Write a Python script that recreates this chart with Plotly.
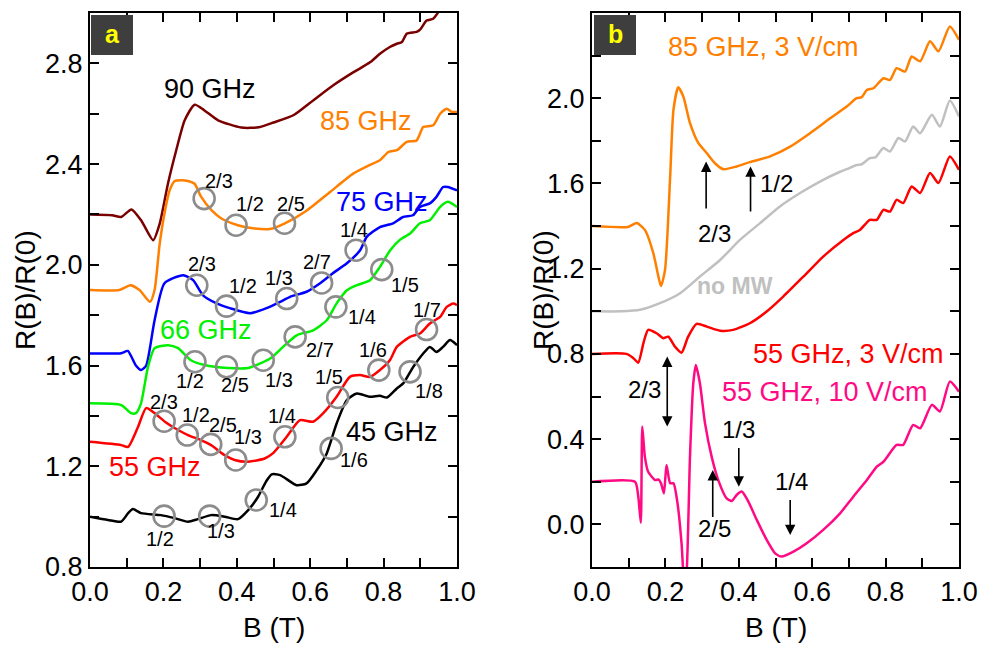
import plotly.graph_objects as go

# ---------------- panel (a): R(B)/R(0) at several microwave frequencies ----------------
b90 = [0, 0.06, 0.085, 0.113, 0.14, 0.172, 0.19, 0.2125, 0.235, 0.258, 0.285, 0.312, 0.349, 0.412, 0.46, 0.5,
       0.554, 0.608, 0.663, 0.717, 0.763, 0.79, 0.817, 0.836, 0.85, 0.863, 0.89, 0.9, 0.917, 0.935, 0.952, 0.97, 1.0]
r90 = [2.2, 2.197, 2.19, 2.22, 2.175, 2.098, 2.164, 2.323, 2.455, 2.574, 2.636, 2.613, 2.574, 2.545, 2.546, 2.565,
       2.594, 2.653, 2.713, 2.764, 2.804, 2.838, 2.865, 2.878, 2.885, 2.918, 2.925, 2.935, 2.97, 2.977, 3.01, 3.05, 3.1]

b85 = [0, 0.08, 0.11, 0.135, 0.1635, 0.176, 0.19, 0.205, 0.217, 0.231, 0.25, 0.267, 0.285, 0.303, 0.331, 0.358,
       0.403, 0.449, 0.49, 0.531, 0.59, 0.654, 0.717, 0.763, 0.79, 0.813, 0.836, 0.863, 0.89, 0.908, 0.935, 0.954,
       0.972, 0.986, 1.0]
r85 = [1.9, 1.9, 1.919, 1.9, 1.853, 1.9, 2.085, 2.22, 2.296, 2.333, 2.336, 2.333, 2.322, 2.27, 2.217, 2.184,
       2.157, 2.144, 2.142, 2.165, 2.215, 2.289, 2.362, 2.397, 2.415, 2.448, 2.455, 2.488, 2.494, 2.547, 2.554, 2.6,
       2.62, 2.607, 2.607]

b75 = [0, 0.085, 0.103, 0.125, 0.139, 0.153, 0.176, 0.203, 0.254, 0.281, 0.308, 0.345, 0.381, 0.436, 0.481, 0.518,
       0.545, 0.59, 0.627, 0.662, 0.7, 0.736, 0.754, 0.79, 0.826, 0.853, 0.88, 0.899, 0.926, 0.944, 0.962, 0.975, 1.0]
r75 = [1.648, 1.649, 1.658, 1.6, 1.582, 1.6, 1.78, 1.927, 1.959, 1.939, 1.879, 1.847, 1.828, 1.808, 1.828, 1.853,
       1.873, 1.893, 1.927, 1.967, 2.006, 2.058, 2.111, 2.15, 2.165, 2.19, 2.197, 2.23, 2.244, 2.27, 2.309, 2.309, 2.296]

b66 = [0, 0.085, 0.112, 0.125, 0.139, 0.158, 0.176, 0.213, 0.24, 0.275, 0.312, 0.376, 0.431, 0.466, 0.493, 0.526,
       0.563, 0.608, 0.645, 0.672, 0.7, 0.727, 0.763, 0.79, 0.818, 0.845, 0.872, 0.899, 0.926, 0.954, 0.975, 1.0]
r66 = [1.45, 1.443, 1.411, 1.411, 1.45, 1.595, 1.669, 1.681, 1.669, 1.621, 1.602, 1.59, 1.59, 1.61, 1.63, 1.674,
       1.72, 1.74, 1.78, 1.847, 1.899, 1.919, 1.939, 1.992, 2.058, 2.1, 2.124, 2.165, 2.177, 2.23, 2.25, 2.23]

b55 = [0, 0.085, 0.104, 0.131, 0.153, 0.176, 0.204, 0.24, 0.267, 0.302, 0.33, 0.367, 0.394, 0.431, 0.476, 0.499,
       0.536, 0.572, 0.608, 0.635, 0.672, 0.708, 0.736, 0.763, 0.79, 0.817, 0.836, 0.872, 0.899, 0.926, 0.954, 0.972,
       0.99, 1.0]
r55 = [1.297, 1.284, 1.277, 1.357, 1.431, 1.411, 1.377, 1.344, 1.324, 1.304, 1.284, 1.244, 1.225, 1.218, 1.231, 1.252,
       1.317, 1.383, 1.377, 1.41, 1.476, 1.555, 1.562, 1.555, 1.582, 1.621, 1.674, 1.714, 1.727, 1.767, 1.793, 1.833,
       1.846, 1.84]

b45 = [0, 0.049, 0.085, 0.104, 0.117, 0.139, 0.193, 0.231, 0.267, 0.294, 0.33, 0.367, 0.403, 0.431, 0.458, 0.48,
       0.495, 0.518, 0.563, 0.59, 0.618, 0.645, 0.672, 0.7, 0.727, 0.763, 0.79, 0.809, 0.836, 0.854, 0.881, 0.908,
       0.926, 0.944, 0.962, 0.981, 1.0]
r45 = [1.0, 0.987, 0.98, 1.014, 1.03, 1.014, 1.006, 0.994, 0.98, 0.99, 1.006, 1.0, 0.99, 1.026, 1.079, 1.14,
       1.168, 1.165, 1.125, 1.132, 1.185, 1.251, 1.37, 1.463, 1.489, 1.476, 1.48, 1.473, 1.509, 1.53, 1.595, 1.648,
       1.674, 1.654, 1.674, 1.701, 1.681]

# fractional-filling markers (B, R, label, label B, label R) for each trace in panel (a)
marks_a = [
    (0.311, 2.263, "2/3", 0.351, 2.332), (0.398, 2.157, "1/2", 0.436, 2.242), (0.530, 2.165, "2/5", 0.549, 2.242),
    (0.291, 1.919, "2/3", 0.305, 2.004), (0.372, 1.836, "1/2", 0.418, 1.917), (0.536, 1.866, "1/3", 0.514, 1.949),
    (0.631, 1.928, "2/7", 0.619, 2.012), (0.725, 2.058, "1/4", 0.718, 2.139),
    (0.286, 1.615, "1/2", 0.272, 1.540), (0.372, 1.595, "2/5", 0.395, 1.524), (0.472, 1.621, "1/3", 0.514, 1.544),
    (0.559, 1.714, "2/7", 0.627, 1.663), (0.670, 1.833, "1/4", 0.740, 1.794), (0.795, 1.981, "1/5", 0.857, 1.921),
    (0.202, 1.379, "2/3", 0.202, 1.457), (0.265, 1.324, "1/2", 0.290, 1.403), (0.329, 1.287, "2/5", 0.362, 1.363),
    (0.397, 1.225, "1/3", 0.431, 1.318), (0.531, 1.317, "1/4", 0.522, 1.401), (0.675, 1.473, "1/5", 0.650, 1.556),
    (0.787, 1.582, "1/6", 0.772, 1.663), (0.917, 1.743, "1/7", 0.917, 1.820),
    (0.202, 1.002, "1/2", 0.192, 0.913), (0.326, 1.002, "1/3", 0.358, 0.941), (0.453, 1.066, "1/4", 0.527, 1.026),
    (0.657, 1.271, "1/6", 0.718, 1.223), (0.872, 1.575, "1/8", 0.925, 1.500),
]

# ---------------- panel (b): power dependence ----------------
b_o = [0, 0.098, 0.122, 0.144, 0.167, 0.181, 0.188, 0.199, 0.213, 0.222, 0.235, 0.249, 0.267, 0.29, 0.313, 0.335,
       0.358, 0.394, 0.43, 0.485, 0.54, 0.594, 0.649, 0.694, 0.721, 0.735, 0.749, 0.767, 0.794, 0.812, 0.83, 0.853,
       0.871, 0.894, 0.921, 0.944, 0.975, 1.0]
r_o = [1.4, 1.396, 1.414, 1.382, 1.273, 1.163, 1.119, 1.194, 1.633, 1.946, 2.051, 2.007, 1.883, 1.789, 1.742, 1.695,
       1.667, 1.68, 1.7, 1.727, 1.773, 1.836, 1.906, 1.961, 2.0, 2.005, 2.039, 2.047, 2.094, 2.086, 2.141, 2.125,
       2.196, 2.173, 2.267, 2.22, 2.337, 2.274]

b_g = [0, 0.08, 0.131, 0.185, 0.24, 0.294, 0.349, 0.403, 0.458, 0.512, 0.567, 0.621, 0.676, 0.694, 0.721, 0.735,
       0.757, 0.772, 0.794, 0.812, 0.835, 0.853, 0.875, 0.894, 0.926, 0.948, 0.975, 1.0]
r_g = [1.0, 1.0, 1.007, 1.038, 1.085, 1.163, 1.241, 1.335, 1.414, 1.492, 1.555, 1.609, 1.655, 1.667, 1.687, 1.69,
       1.719, 1.722, 1.766, 1.75, 1.813, 1.797, 1.867, 1.836, 1.922, 1.867, 1.989, 1.914]

b_r = [0, 0.094, 0.113, 0.126, 0.14, 0.153, 0.176, 0.194, 0.208, 0.226, 0.244, 0.262, 0.285, 0.313, 0.349, 0.385,
       0.43, 0.476, 0.521, 0.576, 0.63, 0.685, 0.712, 0.73, 0.757, 0.776, 0.794, 0.812, 0.83, 0.848, 0.871, 0.894,
       0.921, 0.944, 0.975, 1.0]
r_r = [0.8, 0.8, 0.78, 0.759, 0.85, 0.913, 0.897, 0.874, 0.881, 0.834, 0.806, 0.881, 0.941, 0.928, 0.909, 0.913,
       0.944, 0.999, 1.069, 1.163, 1.257, 1.335, 1.367, 1.382, 1.429, 1.429, 1.476, 1.468, 1.523, 1.508, 1.586, 1.555,
       1.649, 1.602, 1.727, 1.664]

b_p = [0, 0.117, 0.126, 0.133, 0.137, 0.144, 0.153, 0.172, 0.181, 0.188, 0.196, 0.203, 0.213, 0.222, 0.233, 0.244,
       0.252, 0.258, 0.267, 0.276, 0.283, 0.294, 0.308, 0.326, 0.344, 0.367, 0.381, 0.394, 0.408, 0.426, 0.449, 0.476,
       0.499, 0.517, 0.549, 0.585, 0.63, 0.676, 0.712, 0.749, 0.776, 0.794, 0.83, 0.848, 0.875, 0.894, 0.926, 0.948,
       0.975, 1.0]
r_p = [0.2, 0.2, 0.132, 0.008, 0.459, 0.318, 0.247, 0.208, 0.211, 0.193, 0.146, 0.279, 0.193, 0.193, 0.099, -0.089,
       -0.3, -0.22, 0.318, 0.662, 0.748, 0.662, 0.474, 0.318, 0.208, 0.122, 0.11, 0.138, 0.154, 0.107, 0.021, -0.073,
       -0.136, -0.151, -0.128, -0.089, -0.026, 0.052, 0.13, 0.208, 0.271, 0.294, 0.373, 0.373, 0.467, 0.451, 0.561,
       0.53, 0.67, 0.623]

# arrows in panel (b): (B, head R, tail R, label, label B, label R, double-headed)
arrows_b = [
    (0.311, 1.703, 1.476, "2/3", 0.335, 1.363, False),
    (0.432, 1.680, 1.461, "1/2", 0.503, 1.601, False),
    (0.205, 0.459, 0.795, "2/3", 0.144, 0.631, True),
    (0.329, 0.255, 0.028, "2/5", 0.335, -0.018, False),
    (0.400, 0.177, 0.365, "1/3", 0.399, 0.446, False),
    (0.540, -0.050, 0.122, "1/4", 0.544, 0.200, False),
]

FONT = "Liberation Sans, Arial, sans-serif"
LW = 2.5
W, H = 982, 657

fig = go.Figure()

def curve(xs, ys, color, xa, ya):
    fig.add_trace(go.Scatter(x=xs, y=ys, mode="lines", xaxis=xa, yaxis=ya,
                             line=dict(color=color, width=LW, shape="spline", smoothing=0.6),
                             showlegend=False, hoverinfo="skip"))

curve(b90, r90, "#7a0000", "x", "y")
curve(b85, r85, "#ff8000", "x", "y")
curve(b75, r75, "#0000ff", "x", "y")
curve(b66, r66, "#00f000", "x", "y")
curve(b55, r55, "#ff0000", "x", "y")
curve(b45, r45, "#000000", "x", "y")

fig.add_trace(go.Scatter(x=[m[0] for m in marks_a], y=[m[1] for m in marks_a], mode="markers",
                         marker=dict(symbol="circle-open", size=21, color="#8c8c8c", line=dict(width=2.6)),
                         showlegend=False, hoverinfo="skip"))

curve(b_g, r_g, "#c0c0c0", "x2", "y2")
curve(b_o, r_o, "#ff8000", "x2", "y2")
curve(b_r, r_r, "#ff0000", "x2", "y2")
curve(b_p, r_p, "#ff0a84", "x2", "y2")

ann = []
for bx, ry, txt, lx, ly in marks_a:
    ann.append(dict(x=lx, y=ly, xref="x", yref="y", text=txt, showarrow=False,
                    font=dict(family=FONT, size=20, color="#000000")))

curve_labels_a = [
    ("90 GHz", 0.327, 2.70, "#000000"), ("85 GHz", 0.752, 2.57, "#ff8000"),
    ("75 GHz", 0.796, 2.248, "#0000ff"), ("66 GHz", 0.316, 1.74, "#00f000"),
    ("55 GHz", 0.177, 1.197, "#ff0000"), ("45 GHz", 0.823, 1.336, "#000000"),
]
for txt, x, y, c in curve_labels_a:
    ann.append(dict(x=x, y=y, xref="x", yref="y", text=txt, showarrow=False,
                    font=dict(family=FONT, size=27, color=c)))

curve_labels_b = [
    ("85 GHz, 3 V/cm", 0.466, 2.24, "#ff8000", False),
    ("no MW", 0.389, 1.12, "#c0c0c0", True),
    ("55 GHz, 3 V/cm", 0.698, 0.80, "#ff0000", False),
    ("55 GHz, 10 V/cm", 0.635, 0.62, "#ff0a84", False),
]
for txt, x, y, c, bold in curve_labels_b:
    ann.append(dict(x=x, y=y, xref="x2", yref="y2", text=f"<b>{txt}</b>" if bold else txt, showarrow=False,
                    font=dict(family=FONT, size=23 if bold else 27, color=c)))

for bx, head, tail, txt, lx, ly, both in arrows_b:
    ann.append(dict(x=bx, y=head, ax=bx, ay=tail, xref="x2", yref="y2", axref="x2", ayref="y2",
                    text="", showarrow=True, arrowhead=2, arrowsize=1.3, arrowwidth=1.6, arrowcolor="#000000",
                    arrowside="end+start" if both else "end", startarrowhead=2, startarrowsize=1.3))
    ann.append(dict(x=lx, y=ly, xref="x2", yref="y2", text=txt, showarrow=False,
                    font=dict(family=FONT, size=24, color="#000000")))

# axis titles (pixel positions converted to paper fractions)
for xc in (273.5, 775.5):
    ann.append(dict(x=xc / W, y=1 - 627 / H, xref="paper", yref="paper", text="B (T)", showarrow=False,
                    xanchor="center", yanchor="middle", font=dict(family=FONT, size=28, color="#000000")))
for xc in (25, 543):
    ann.append(dict(x=xc / W, y=1 - 290 / H, xref="paper", yref="paper", text="R(B)/R(0)", showarrow=False,
                    xanchor="center", yanchor="middle", textangle=-90,
                    font=dict(family=FONT, size=28, color="#000000")))

# panel tags
shapes = []
for x0, tag in ((91, "a"), (594, "b")):
    shapes.append(dict(type="rect", xref="paper", yref="paper", x0=x0 / W, x1=(x0 + 42) / W,
                       y0=1 - 55 / H, y1=1 - 15 / H, fillcolor="#3e3e3e", line=dict(width=0), layer="above"))
    ann.append(dict(x=(x0 + 21) / W, y=1 - 34 / H, xref="paper", yref="paper", text=f"<b>{tag}</b>",
                    xanchor="center", yanchor="middle", showarrow=False,
                    font=dict(family=FONT, size=25, color="#ffff00")))

def xaxis(domain, anchor):
    return dict(domain=domain, anchor=anchor, range=[0, 1], tick0=0, dtick=0.2, tickformat=".1f",
                showline=True, linewidth=2, linecolor="#000000", mirror="ticks", ticks="inside",
                ticklen=9, tickwidth=2, tickcolor="#000000", showgrid=False, zeroline=False,
                minor=dict(ticks="inside", dtick=0.1, ticklen=9, tickwidth=2, tickcolor="#000000", showgrid=False),
                tickfont=dict(family=FONT, size=27, color="#000000"), automargin=False)

def yaxis(domain, anchor, rng, t0):
    return dict(domain=domain, anchor=anchor, range=rng, tick0=t0, dtick=0.4, tickformat=".1f",
                showline=True, linewidth=2, linecolor="#000000", mirror="ticks", ticks="inside",
                ticklen=9, tickwidth=2, tickcolor="#000000", showgrid=False, zeroline=False,
                minor=dict(ticks="inside", dtick=0.2, ticklen=9, tickwidth=2, tickcolor="#000000", showgrid=False),
                tickfont=dict(family=FONT, size=27, color="#000000"), automargin=False)

ydom = [1 - 567 / H, 1 - 13 / H]
fig.update_layout(
    width=W, height=H, margin=dict(l=0, r=0, t=0, b=0),
    paper_bgcolor="#ffffff", plot_bgcolor="#ffffff",
    xaxis=xaxis([90 / W, 457 / W], "y"),
    yaxis=yaxis(ydom, "x", [0.8, 3.0], 0.8),
    xaxis2=xaxis([592 / W, 959 / W], "y2"),
    yaxis2=yaxis(ydom, "x2", [-0.2, 2.4], 0.0),
    annotations=ann, shapes=shapes, showlegend=False,
)

fig.write_html("out.html")
